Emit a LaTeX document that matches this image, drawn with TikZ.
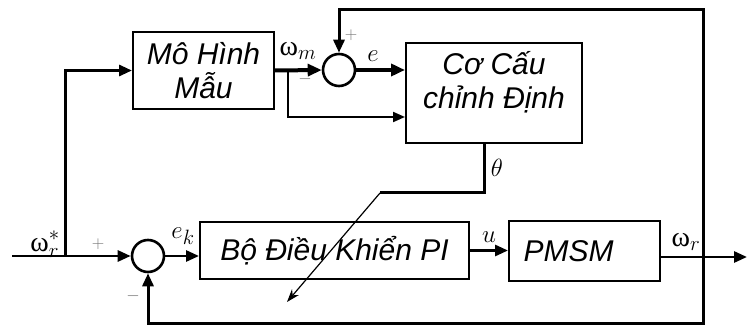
\documentclass[tikz,border=0pt]{standalone}
\usepackage{fontspec}
\setmainfont{Liberation Sans}
\newfontfamily\grk{Liberation Serif}
\usetikzlibrary{arrows.meta,positioning,calc}

\begin{document}
\begin{tikzpicture}[
        x=1pt, y=-1pt,
        block/.style={
            rectangle, draw=black, line width=2pt, fill=white,
            inner sep=0pt
        },
        txt/.style={
            align=center, font=\fontsize{30}{34}\selectfont\itshape,
            inner sep=0pt
        },
        sumj/.style={
            circle, draw=black, line width=2.6pt, minimum size=32pt, inner sep=0pt
        },
        sig/.style={font=\fontsize{28}{30}\selectfont, inner sep=0pt},
        sgn/.style={font=\fontsize{19}{19}\selectfont, text=black!55, inner sep=0pt},
        arr/.style={-{Triangle[length=13pt,width=11pt]}, line width=2.8pt},
        barr/.style={-{Triangle[length=14pt,width=12pt]}, line width=4pt},
        larr/.style={-{Triangle[length=12pt,width=10pt]}, line width=2pt},
        ln/.style={line width=3pt}
    ]
    \useasboundingbox (0,0) rectangle (747,328);

    % Blocks
    \node[block, minimum width=141pt, minimum height=77pt] (model) at (203.5,70.5) {};
    \node[txt] (modeltxt) at (model.center) {Mô Hình\\Mẫu};
    \node[block, minimum width=176pt, minimum height=100pt] (adapt) at (494,93) {};
    \node[txt, below=9pt of adapt.north] (adapttxt) {Cơ Cấu\\chỉnh Định};
    \node[block, minimum width=269pt, minimum height=57pt] (pi) at (334.5,250.5) {};
    \node[txt] (pitxt) at (pi.center) {Bộ Điều Khiển PI};
    \node[block, minimum width=151pt, minimum height=60pt] (pmsm) at (584.5,251) {};
    \node[txt] (pmsmtxt) at ([xshift=-16pt]pmsm.center) {PMSM};

    % Summing junctions
    \node[sumj] (sumtop) at (339,70) {};
    \node[sumj] (sumbot) at (148,256) {};

    % Helper points
    \coordinate (in) at (12,256);
    \coordinate (br) at (65,256);
    \coordinate (br2) at (288,70);
    \coordinate (tb) at (380,193);
    \coordinate (tip) at (287,302);
    \coordinate (fb) at (703,257);
    \coordinate (ftop) at (703,10);
    \coordinate (fbot) at (703,324);
    \coordinate (out) at (747,257);

    % Forward path
    \draw[arr] (in) -- (sumbot.west);
    \draw[ln, -{Triangle[length=13pt,width=11pt]}] (br) |- (model.west);
    \draw[barr] (model.east) -- (sumtop.west);
    \draw[barr] (sumtop.east) -- (sumtop.east -| adapt.west);
    \draw[larr] (br2) |- ([yshift=-24pt]adapt.west);
    \draw[arr] (sumbot.east) -- (sumbot.east -| pi.west);
    \draw[arr] (pi.east) -- (pi.east -| pmsm.west);
    \draw[arr] (out -| pmsm.east) -- (out);

    % Adaptation output
    \draw[ln] ([xshift=-10pt]adapt.south) |- (tb);
    \draw[-{Stealth[length=13pt,width=9pt]}, line width=1.2pt] (tb) -- (tip);

    % Feedback
    \draw[ln, -{Triangle[length=13pt,width=11pt]}] (fb) -- (ftop) -| (sumtop.north);
    \draw[ln, -{Triangle[length=13pt,width=11pt]}] (fb) -- (fbot) -| (sumbot.south);

    % Signal labels
    \node[sig] (wm) at (298,51) {{\grk ω}$_m$};
    \node[sig] (e) at (373,56) {$e$};
    \node[sig] (wrs) at (45,244) {{\grk ω}$_r^{\raisebox{2pt}{$\scriptstyle *$}}$};
    \node[sig] (ek) at (183,236) {$e_k$};
    \node[sig] (u) at (489,237) {$u$};
    \node[sig] (wr) at (686,242) {{\grk ω}$_r$};
    \node[sig] (th) at (497,168) {$\theta$};

    % Signs
    \node[sgn] (p1) at (351,35) {$+$};
    \node[sgn] (m1) at (305,79) {$-$};
    \node[sgn] (p2) at (98,244) {$+$};
    \node[sgn] (m2) at (133,296) {$-$};
\end{tikzpicture}
\end{document}
